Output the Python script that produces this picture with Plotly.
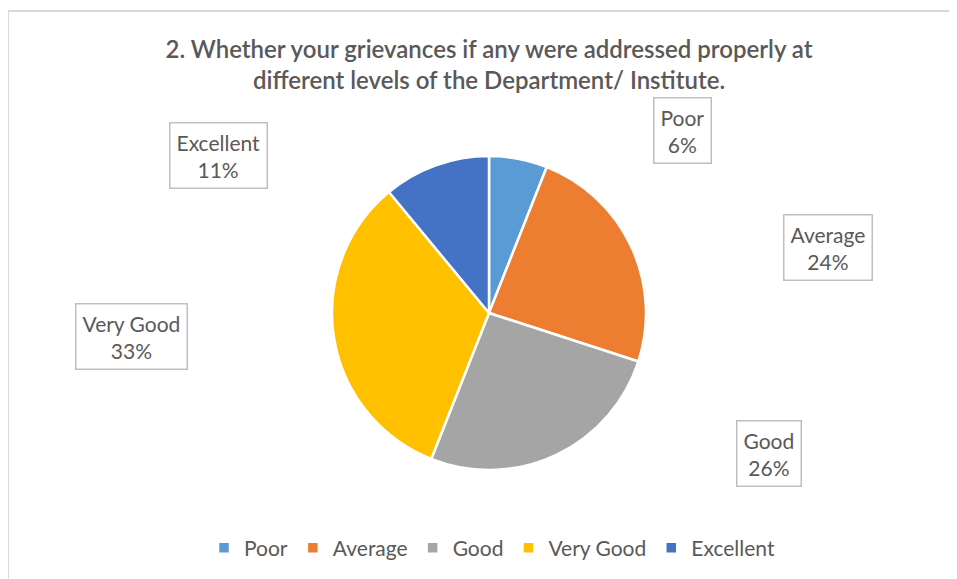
import plotly.graph_objects as go

# Survey responses (percent of respondents)
categories = ["Poor", "Average", "Good", "Very Good", "Excellent"]
shares = [6, 24, 26, 33, 11]
colors = ["#5b9bd5", "#ed7d31", "#a5a5a5", "#ffc000", "#4472c4"]

TITLE = "2. Whether your grievances if any were addressed properly at<br>different levels of the Department/ Institute."
FONT = "Lato"
TEXT_GREY = "#595959"

W, H = 957, 579
OFF = 8  # browser body margin shifts the figure by 8px


def px(x):
    return (x - OFF) / W


def py(y):
    return 1 - (y - OFF) / H


# label box centres in page pixels, same order as categories
label_pos = [(682, 131), (828, 248), (769, 453), (131, 336), (218, 155)]
CX, CY, R = 489, 313, 157

fig = go.Figure()
fig.add_trace(go.Pie(
    labels=categories,
    values=shares,
    sort=False,
    direction="clockwise",
    rotation=0,
    marker=dict(colors=colors, line=dict(color="white", width=2.5)),
    textinfo="none",
    hoverinfo="label+percent",
    domain=dict(x=[px(CX - R), px(CX + R)], y=[py(CY + R), py(CY - R)]),
))

for cat, val, (lx, ly) in zip(categories, shares, label_pos):
    fig.add_annotation(
        x=px(lx), y=py(ly), xref="paper", yref="paper",
        xanchor="center", yanchor="middle",
        text=f"{cat}<br>{val}%", showarrow=False,
        font=dict(family=FONT, size=21, color=TEXT_GREY),
        bordercolor="#bfbfbf", borderwidth=1.5, borderpad=6, bgcolor="white",
        align="center",
    )

# chart-area border (cropped on the right and bottom in the reference)
fig.add_shape(type="rect", xref="paper", yref="paper",
              x0=px(8), x1=1.05, y0=-0.05, y1=py(11),
              line=dict(color="#d9d9d9", width=2), layer="below")

fig.update_layout(
    width=W, height=H,
    margin=dict(l=0, r=0, t=0, b=0),
    paper_bgcolor="white",
    title=dict(text=TITLE, x=px(489), xanchor="center", yref="container", y=py(58), yanchor="top",
               font=dict(family=FONT, size=24, color=TEXT_GREY, weight=600)),
    legend=dict(orientation="h", x=px(492), xanchor="center", y=py(548), yanchor="middle",
                font=dict(family=FONT, size=21, color=TEXT_GREY), itemwidth=30,
                traceorder="normal"),
    showlegend=True,
)

fig.write_html("out.html")
